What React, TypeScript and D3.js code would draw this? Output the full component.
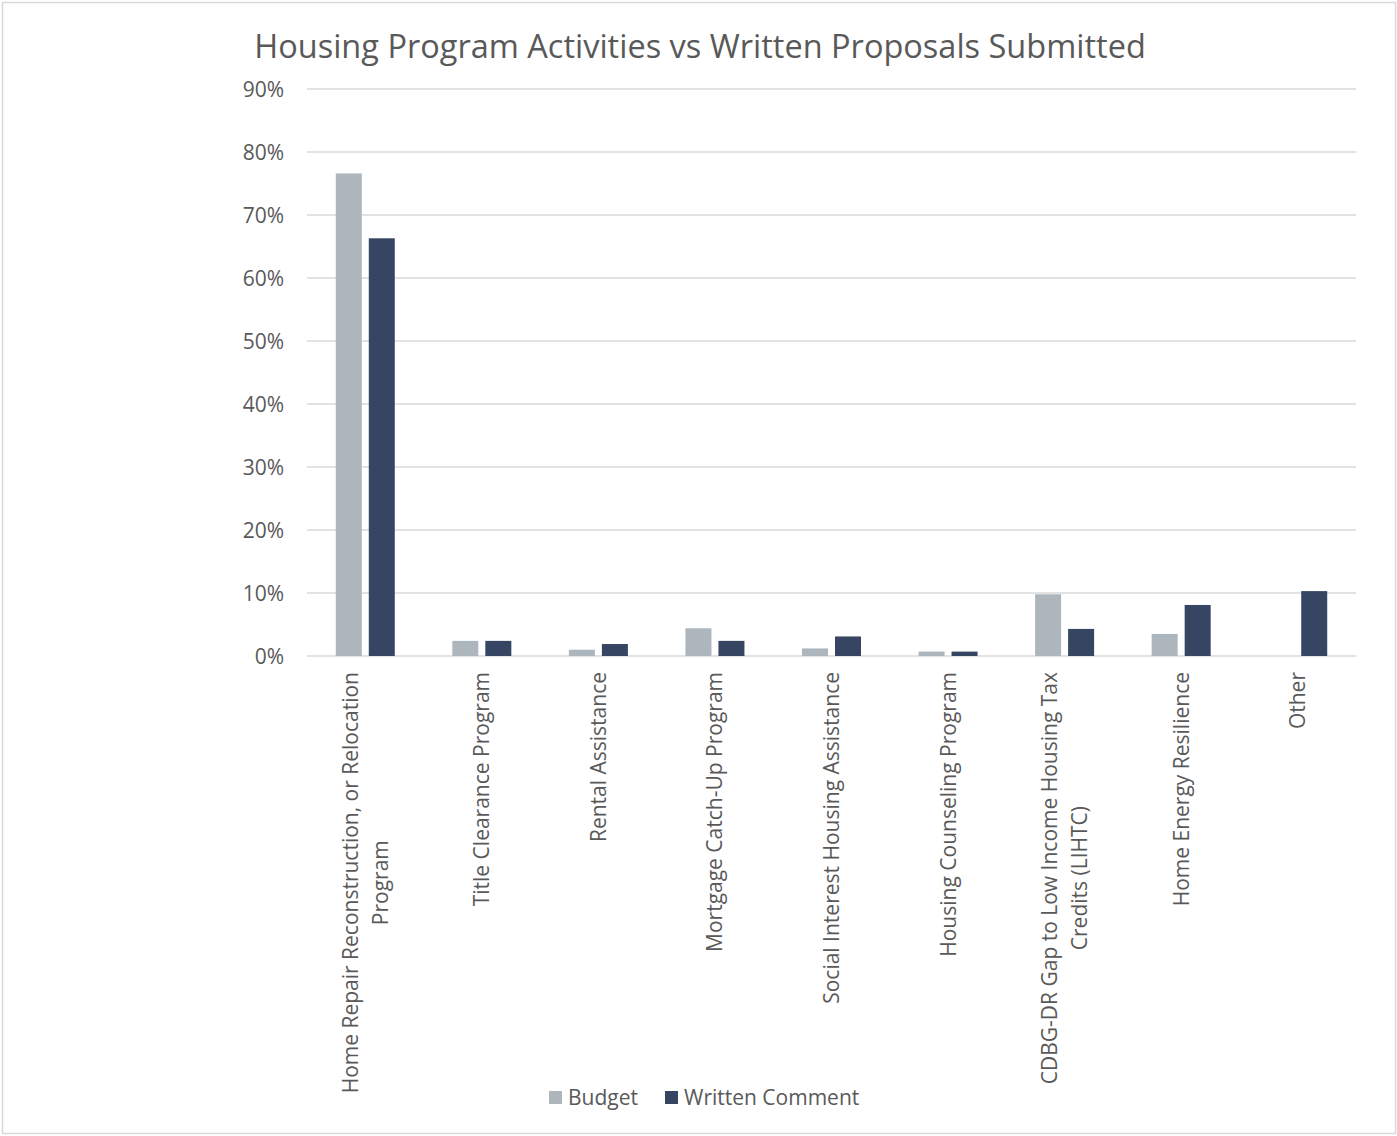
import React, { useEffect, useRef } from "react";
import * as d3 from "d3";

const categories = [
  "Home Repair Reconstruction, or Relocation Program",
  "Title Clearance Program",
  "Rental Assistance",
  "Mortgage Catch-Up Program",
  "Social Interest Housing Assistance",
  "Housing Counseling Program",
  "CDBG-DR Gap to Low Income Housing Tax Credits (LIHTC)",
  "Home Energy Resilience",
  "Other",
];
const budget = [76.6, 2.4, 1.0, 4.4, 1.2, 0.7, 9.8, 3.5, 0];
const writtenComment = [66.3, 2.4, 1.9, 2.4, 3.1, 0.7, 4.3, 8.1, 10.3];
const seriesNames = ["Budget", "Written Comment"];
const yTicks = [0, 10, 20, 30, 40, 50, 60, 70, 80, 90];
const title = "Housing Program Activities vs Written Proposals Submitted";

const W = 1397;
const H = 1136;
const FONT = "'Open Sans', sans-serif";
const TEXT = "#595959";
const GRID = "#d9d9d9";
const COLORS = ["#adb5bd", "#364561"];

export default function App() {
  const ref = useRef<SVGSVGElement>(null);
  useEffect(() => {
    const svg = d3.select(ref.current);
    svg.selectAll("*").remove();

    svg.append("rect").attr("x", 2.5).attr("y", 2.5).attr("width", 1393).attr("height", 1131)
      .attr("fill", "white").attr("stroke", GRID).attr("stroke-width", 1.5);

    const left = 307, right = 1356, top = 89, bottom = 656;
    const x = d3.scaleBand<string>().domain(categories).range([left, right]).padding(0);
    const y = d3.scaleLinear().domain([0, 90]).range([bottom, top]);

    // title
    svg.append("text").attr("x", 700).attr("y", 58).attr("text-anchor", "middle")
      .attr("font-family", FONT).attr("font-size", 32.5).attr("fill", TEXT).text(title);

    // grid
    svg.append("g").selectAll("line").data(yTicks).join("line")
      .attr("x1", left).attr("x2", right)
      .attr("y1", (d) => y(d)).attr("y2", (d) => y(d))
      .attr("stroke", GRID).attr("stroke-width", 1.5);

    svg.append("g").selectAll("text").data(yTicks).join("text")
      .attr("x", 284).attr("y", (d) => y(d) + 7.5).attr("text-anchor", "end")
      .attr("font-family", FONT).attr("font-size", 21).attr("fill", TEXT)
      .text((d) => d + "%");

    const bw = 26, gap = 7;
    const series = [budget, writtenComment];
    series.forEach((vals, si) => {
      svg.append("g").selectAll("rect").data(vals).join("rect")
        .attr("x", (_d, i) => {
          const c = (x(categories[i]) as number) + x.bandwidth() / 2;
          return si === 0 ? c - gap / 2 - bw : c + gap / 2;
        })
        .attr("width", bw)
        .attr("y", (d) => y(d))
        .attr("height", (d) => bottom - y(d))
        .attr("fill", COLORS[si]);
    });

    // category labels
    const fs = 21;
    const maxW = 445;
    const lh = 30;
    categories.forEach((cat) => {
      const cx = (x(cat) as number) + x.bandwidth() / 2;
      const g = svg.append("g").attr("transform", `translate(${cx},672) rotate(-90)`);
      const probe = g.append("text").attr("font-family", FONT).attr("font-size", fs);
      const words = cat.split(" ");
      const lines: string[] = [];
      let cur = "";
      words.forEach((w) => {
        const t = cur ? cur + " " + w : w;
        probe.text(t);
        if ((probe.node() as SVGTextElement).getComputedTextLength() > maxW && cur) {
          lines.push(cur);
          cur = w;
        } else cur = t;
      });
      lines.push(cur);
      let widest = 0;
      lines.forEach((l) => {
        probe.text(l);
        widest = Math.max(widest, (probe.node() as SVGTextElement).getComputedTextLength());
      });
      probe.remove();
      const n = lines.length;
      lines.forEach((l, li) => {
        g.append("text").attr("x", -widest / 2)
          .attr("y", (li - (n - 1) / 2) * lh + 7.5)
          .attr("text-anchor", "middle")
          .attr("font-family", FONT).attr("font-size", fs).attr("fill", TEXT)
          .text(l);
      });
    });

    // legend
    const lg = svg.append("g");
    const legX = [549, 665];
    seriesNames.forEach((s, i) => {
      lg.append("rect").attr("x", legX[i]).attr("y", 1091).attr("width", 13).attr("height", 13).attr("fill", COLORS[i]);
      lg.append("text").attr("x", legX[i] + 19).attr("y", 1105)
        .attr("font-family", FONT).attr("font-size", 21).attr("fill", TEXT).text(s);
    });
  }, []);
  return (
    <svg ref={ref} width={W} height={H} style={{ position: "absolute", left: 0, top: 0 }} />
  );
}
